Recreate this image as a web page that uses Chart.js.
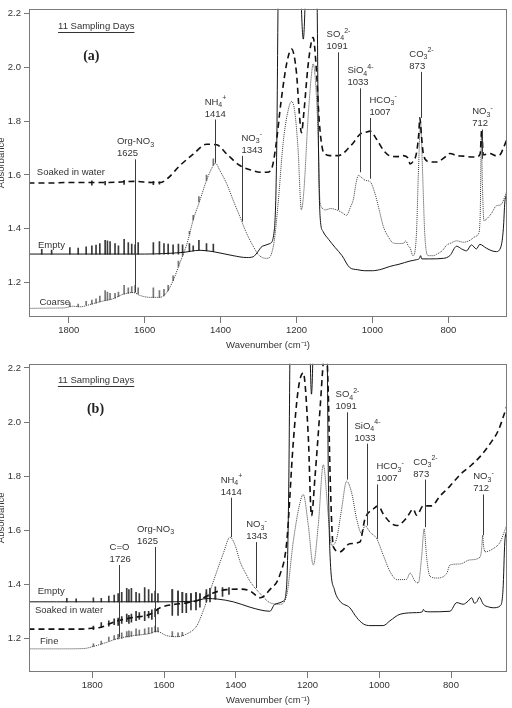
<!DOCTYPE html>
<html>
<head>
<meta charset="utf-8">
<script src="https://cdn.jsdelivr.net/npm/chart.js@4.4.0/dist/chart.umd.min.js"></script>
<style>
  html, body { margin: 0; padding: 0; background: #fff; overflow: hidden; width: 512px; height: 708px; position: relative; }
  canvas { position: absolute; left: -5px; }
  #pa { top: 0; }
  #pb { top: 355px; }
</style>
</head>
<body>
<canvas id="pa" width="517" height="355"></canvas>
<canvas id="pb" width="517" height="355"></canvas>
<script>
// tick labels
const xTicks = [1800, 1600, 1400, 1200, 1000, 800];
const yTicks = [1.2, 1.4, 1.6, 1.8, 2.0, 2.2];

// water vapour lines seen as spikes (cm-1)
const waterLineWn = [1871, 1845, 1797, 1775, 1754, 1739, 1728, 1718, 1704, 1698, 1691, 1678, 1669, 1654, 1643,
  1634, 1625, 1617, 1577, 1561, 1549, 1538, 1525, 1511, 1500, 1482, 1472, 1457, 1437, 1419];

// ---- panel (a): coarse ----
const aEmptyWn = [1906, 1800, 1700, 1600, 1500, 1454, 1420, 1367, 1331, 1314, 1304, 1290, 1270, 1258, 1252, 1248, 1240,
  1215, 1196, 1182, 1170, 1155, 1146, 1142, 1138, 1130, 1115, 1098, 1080, 1060, 1040, 1020, 1000, 975, 954, 930, 901,
  884, 876, 873, 870, 850, 813, 796, 778, 765, 752, 739, 726, 717, 700, 685, 674, 661, 655, 651, 645];
const aEmptyAbs = [1.306, 1.306, 1.306, 1.306, 1.312, 1.320, 1.315, 1.300, 1.293, 1.296, 1.310, 1.335, 1.345, 1.40, 1.70,
  2.30, 2.70, 2.90, 2.60, 2.105, 2.60, 2.90, 2.30, 1.70, 1.45, 1.39, 1.36, 1.33, 1.30, 1.256, 1.248, 1.244, 1.244, 1.25,
  1.26, 1.268, 1.28, 1.285, 1.29, 1.30, 1.288, 1.288, 1.29, 1.30, 1.335, 1.325, 1.318, 1.34, 1.325, 1.342, 1.328, 1.318,
  1.315, 1.335, 1.40, 1.50, 1.53];

const aSoakedWn = [1906, 1850, 1800, 1700, 1625, 1580, 1559, 1541, 1507, 1472, 1437, 1410, 1383, 1349, 1314, 1296, 1278,
  1265, 1255, 1240, 1225, 1213, 1200, 1193, 1187, 1180, 1170, 1160, 1156, 1148, 1140, 1132, 1124, 1112, 1090, 1077, 1063,
  1050, 1033, 1015, 1006, 989, 970, 954, 935, 919, 905, 901, 893, 884, 878, 875, 871, 866, 853, 831, 810, 796, 778, 761,
  740, 726, 716, 712, 708, 691, 675, 664, 655, 645];
const aSoakedAbs = [1.570, 1.570, 1.572, 1.572, 1.576, 1.572, 1.572, 1.585, 1.635, 1.677, 1.714, 1.712, 1.677, 1.635,
  1.616, 1.610, 1.610, 1.625, 1.70, 1.88, 2.02, 2.068, 1.98, 1.84, 1.757, 1.84, 2.0, 2.10, 2.111, 2.0, 1.80, 1.70, 1.677,
  1.672, 1.672, 1.68, 1.70, 1.72, 1.751, 1.76, 1.763, 1.733, 1.69, 1.671, 1.668, 1.672, 1.66, 1.641, 1.65, 1.68, 1.75,
  1.812, 1.75, 1.68, 1.65, 1.648, 1.665, 1.68, 1.672, 1.67, 1.667, 1.667, 1.68, 1.769, 1.675, 1.68, 1.672, 1.675, 1.70,
  1.735];

const aCoarseWn = [1906, 1850, 1810, 1790, 1770, 1740, 1717, 1683, 1656, 1630, 1612, 1586, 1560, 1542, 1525, 1507, 1489,
  1472, 1454, 1437, 1419, 1414, 1402, 1384, 1367, 1349, 1332, 1314, 1301, 1290, 1278, 1268, 1258, 1248, 1235, 1222, 1213,
  1205, 1196, 1187, 1180, 1170, 1160, 1156, 1150, 1143, 1138, 1130, 1125, 1110, 1094, 1080, 1068, 1058, 1050, 1043, 1037,
  1028, 1019, 1006, 993, 982, 971, 958, 945, 930, 919, 912, 905, 901, 893, 884, 879, 873, 868, 862, 853, 840, 831, 815,
  804, 796, 778, 760, 743, 730, 721, 716, 713, 710, 706, 700, 685, 674, 661, 651, 645];
const aCoarseAbs = [1.104, 1.105, 1.106, 1.112, 1.110, 1.120, 1.129, 1.140, 1.157, 1.163, 1.152, 1.145, 1.145, 1.163,
  1.207, 1.274, 1.342, 1.433, 1.507, 1.580, 1.636, 1.645, 1.617, 1.568, 1.507, 1.445, 1.385, 1.335, 1.305, 1.293, 1.290,
  1.300, 1.360, 1.500, 1.720, 1.840, 1.873, 1.840, 1.700, 1.470, 1.550, 1.800, 1.980, 2.013, 1.950, 1.750, 1.500, 1.475,
  1.470, 1.475, 1.470, 1.460, 1.450, 1.480, 1.510, 1.570, 1.598, 1.590, 1.580, 1.575, 1.530, 1.470, 1.408, 1.370, 1.347,
  1.345, 1.345, 1.355, 1.335, 1.330, 1.300, 1.380, 1.600, 1.796, 1.620, 1.380, 1.300, 1.300, 1.305, 1.320, 1.340, 1.345,
  1.355, 1.350, 1.357, 1.370, 1.380, 1.450, 1.742, 1.550, 1.430, 1.435, 1.460, 1.485, 1.490, 1.520, 1.545];

const aEmptySpikeLo = [1.306, 1.306, 1.306, 1.306, 1.306, 1.306, 1.306, 1.306, 1.306, 1.306, 1.306, 1.306, 1.306, 1.306,
  1.306, 1.306, 1.306, 1.306, 1.306, 1.306, 1.306, 1.306, 1.306, 1.306, 1.310, 1.316, 1.318, 1.320, 1.318, 1.315];
const aEmptySpikeHi = [1.324, 1.321, 1.330, 1.328, 1.333, 1.337, 1.339, 1.345, 1.357, 1.355, 1.352, 1.345, 1.337, 1.361,
  1.349, 1.343, 1.340, 1.349, 1.349, 1.352, 1.345, 1.343, 1.340, 1.343, 1.340, 1.345, 1.337, 1.357, 1.345, 1.343];
const aSoakedSpikeLo = [null, null, null, null, null, 1.562, null, null, 1.563, null, null, null, null, 1.565, null, null,
  null, null, 1.564, 1.566, null, null, null, null, null, null, null, null, null, null];
const aSoakedSpikeHi = [null, null, null, null, null, 1.578, null, null, 1.576, null, null, null, null, 1.580, null, null,
  null, null, 1.576, 1.574, null, null, null, null, null, null, null, null, null, null];
const aCoarseSpikeLo = [null, null, 1.110, 1.110, 1.117, 1.120, 1.123, 1.128, 1.133, 1.135, 1.137, 1.142, 1.148, 1.157,
  1.160, 1.162, 1.163, 1.158, 1.144, 1.145, 1.150, 1.170, 1.207, 1.260, 1.300, 1.380, 1.433, 1.500, 1.580, 1.636];
const aCoarseSpikeHi = [null, null, 1.125, 1.120, 1.130, 1.135, 1.140, 1.150, 1.170, 1.165, 1.160, 1.160, 1.165, 1.190,
  1.180, 1.185, 1.190, 1.180, 1.180, 1.170, 1.175, 1.190, 1.225, 1.280, 1.315, 1.390, 1.450, 1.520, 1.600, 1.660];

const aNoteName = ['Org-NO_3', 'NH_4^+', 'NO_3^-', 'SO_4^2-', 'SiO_4^4-', 'HCO_3^-', 'CO_3^2-', 'NO_3^-'];
const aNoteWn = [1625, 1414, 1343, 1091, 1033, 1007, 873, 712];
const aNoteTop = [1.658, 1.806, 1.671, 2.056, 1.922, 1.812, 1.983, 1.769];
const aNoteBottom = [1.165, 1.645, 1.427, 1.470, 1.610, 1.586, 1.812, 1.660];

// ---- panel (b): fine ----
const bEmptyWn = [1978, 1900, 1800, 1700, 1600, 1520, 1481, 1450, 1407, 1360, 1332, 1305, 1291, 1267, 1258, 1252, 1248,
  1235, 1215, 1198, 1189, 1179, 1160, 1146, 1142, 1137, 1125, 1110, 1082, 1063, 1044, 1026, 989, 970, 942, 896, 880, 877,
  873, 859, 803, 784, 766, 752, 742, 735, 728, 721, 710, 695, 682, 663, 655, 650, 644];
const bEmptyAbs = [1.335, 1.335, 1.335, 1.335, 1.335, 1.337, 1.347, 1.345, 1.335, 1.315, 1.305, 1.300, 1.326, 1.338,
  1.40, 1.80, 2.40, 2.80, 2.90, 2.60, 2.103, 2.60, 2.90, 2.40, 1.80, 1.50, 1.38, 1.338, 1.313, 1.277, 1.253, 1.247,
  1.247, 1.265, 1.289, 1.295, 1.298, 1.307, 1.300, 1.298, 1.300, 1.332, 1.326, 1.338, 1.350, 1.330, 1.335, 1.352, 1.326,
  1.316, 1.313, 1.320, 1.380, 1.556, 1.600];

const bSoakedWn = [1978, 1900, 1830, 1797, 1779, 1732, 1686, 1639, 1611, 1574, 1537, 1500, 1463, 1425, 1388, 1360, 1332,
  1305, 1277, 1258, 1240, 1226, 1212, 1198, 1189, 1179, 1165, 1156, 1148, 1142, 1137, 1128, 1110, 1082, 1054, 1040, 1017,
  1003, 989, 970, 951, 924, 905, 896, 877, 854, 831, 803, 775, 747, 719, 691, 668, 650, 644];
const bSoakedAbs = [1.234, 1.234, 1.234, 1.238, 1.240, 1.264, 1.277, 1.289, 1.313, 1.325, 1.331, 1.343, 1.368, 1.380,
  1.382, 1.375, 1.350, 1.380, 1.435, 1.556, 1.920, 2.120, 2.182, 1.950, 1.653, 1.800, 2.050, 2.220, 2.280, 2.100, 1.800,
  1.538, 1.520, 1.550, 1.556, 1.641, 1.678, 1.690, 1.660, 1.629, 1.617, 1.645, 1.678, 1.655, 1.690, 1.690, 1.726, 1.763,
  1.805, 1.836, 1.872, 1.920, 1.969, 2.036, 2.060];

const bFineWn = [1978, 1900, 1825, 1797, 1760, 1732, 1686, 1639, 1621, 1593, 1565, 1537, 1509, 1491, 1472, 1453, 1435,
  1416, 1402, 1388, 1370, 1360, 1332, 1305, 1277, 1258, 1240, 1221, 1212, 1198, 1184, 1170, 1156, 1142, 1133, 1119, 1105,
  1091, 1077, 1063, 1049, 1040, 1026, 1007, 989, 970, 951, 924, 914, 900, 891, 882, 875, 868, 859, 840, 812, 803, 775,
  747, 719, 714, 712, 709, 705, 682, 663, 650, 644];
const bFineAbs = [1.161, 1.161, 1.162, 1.170, 1.185, 1.198, 1.210, 1.218, 1.226, 1.210, 1.206, 1.216, 1.246, 1.301, 1.374,
  1.447, 1.513, 1.574, 1.544, 1.483, 1.434, 1.410, 1.365, 1.332, 1.326, 1.360, 1.556, 1.702, 1.732, 1.620, 1.471, 1.620,
  1.842, 1.650, 1.544, 1.568, 1.678, 1.781, 1.738, 1.641, 1.587, 1.617, 1.593, 1.568, 1.508, 1.447, 1.417, 1.418, 1.441,
  1.410, 1.405, 1.500, 1.605, 1.500, 1.430, 1.423, 1.440, 1.471, 1.475, 1.490, 1.500, 1.540, 1.581, 1.540, 1.520, 1.532,
  1.556, 1.599, 1.620];

const bEmptySpikeLo = [1.335, 1.335, 1.335, 1.335, 1.335, 1.335, 1.335, 1.335, 1.335, 1.335, 1.335, 1.335, 1.335, 1.335,
  1.335, 1.335, 1.335, 1.335, 1.335, 1.335, 1.335, 1.335, 1.335, 1.335, 1.337, 1.345, 1.347, 1.346, null, null];
const bEmptySpikeHi = [1.348, 1.346, 1.350, 1.348, 1.356, 1.360, 1.365, 1.370, 1.385, 1.380, 1.385, 1.370, 1.365, 1.388,
  1.380, 1.365, 1.375, 1.365, 1.380, 1.375, 1.370, 1.365, 1.365, 1.367, 1.364, 1.368, 1.362, 1.358, null, null];
const bSoakedSpikeLo = [null, null, 1.232, 1.240, 1.245, 1.250, 1.248, 1.255, 1.262, 1.255, 1.260, 1.265, 1.270, 1.265,
  1.275, 1.270, 1.280, 1.290, 1.285, 1.285, 1.295, 1.295, 1.305, 1.305, 1.315, 1.335, 1.335, 1.345, 1.355, 1.362];
const bSoakedSpikeHi = [null, null, 1.245, 1.258, 1.265, 1.272, 1.275, 1.280, 1.290, 1.285, 1.290, 1.300, 1.295, 1.300,
  1.300, 1.305, 1.310, 1.310, 1.380, 1.375, 1.370, 1.365, 1.365, 1.370, 1.365, 1.380, 1.385, 1.390, 1.388, 1.388];
const bFineSpikeLo = [null, null, 1.170, 1.178, 1.190, 1.195, 1.198, 1.200, 1.205, 1.205, 1.207, 1.210, 1.212, 1.215,
  1.217, 1.220, 1.225, 1.224, 1.206, 1.206, 1.210, null, null, null, null, null, null, null, null, null];
const bFineSpikeHi = [null, null, 1.180, 1.190, 1.205, 1.210, 1.215, 1.220, 1.225, 1.228, 1.225, 1.235, 1.230, 1.235,
  1.240, 1.240, 1.245, 1.240, 1.225, 1.220, 1.222, null, null, null, null, null, null, null, null, null];

const bNoteName = ['C=O', 'Org-NO_3', 'NH_4^+', 'NO_3^-', 'SO_4^2-', 'SiO_4^4-', 'HCO_3^-', 'CO_3^2-', 'NO_3^-'];
const bNoteWn = [1726, 1625, 1414, 1343, 1091, 1033, 1007, 873, 712];
const bNoteTop = [1.471, 1.538, 1.720, 1.556, 2.036, 1.920, 1.769, 1.787, 1.732];
const bNoteBottom = [1.204, 1.222, 1.574, 1.386, 1.787, 1.617, 1.568, 1.611, 1.581];

const FONT = '"Liberation Sans", Arial, Helvetica, sans-serif';
Chart.defaults.font.family = FONT;
Chart.defaults.font.size = 9.5;
Chart.defaults.color = '#333';

// tiny markup: _x subscript one char, ^rest superscript
function richSegs(s) {
  const segs = [];
  let i = 0;
  while (i < s.length) {
    if (s[i] === '_') { segs.push({ t: s[i + 1], k: 'sub' }); i += 2; }
    else if (s[i] === '^') { segs.push({ t: s.slice(i + 1), k: 'sup' }); break; }
    else {
      let j = i;
      while (j < s.length && s[j] !== '_' && s[j] !== '^') j++;
      segs.push({ t: s.slice(i, j), k: 'n' });
      i = j;
    }
  }
  return segs;
}

function richText(ctx, s, x, y, draw) {
  let cx = x;
  for (const g of richSegs(s)) {
    ctx.font = (g.k === 'n' ? 9.5 : 7) + 'px ' + FONT;
    const dy = g.k === 'sub' ? 2.5 : g.k === 'sup' ? -4.5 : 0;
    if (draw) ctx.fillText(g.t, cx, y + dy);
    cx += ctx.measureText(g.t).width;
  }
  return cx - x;
}

const panelPlugin = {
  id: 'panelDecor',
  afterDatasetsDraw(chart, args, opts) {
    const { ctx, chartArea: ca, scales: { x, y } } = chart;
    ctx.save();
    // frame
    ctx.strokeStyle = '#7a7a7a';
    ctx.lineWidth = 1;
    ctx.strokeRect(Math.round(ca.left) + 0.5, Math.round(ca.top) + 0.5,
      Math.round(ca.width) - 1, Math.round(ca.height) - 1);

    // peak labels
    ctx.fillStyle = '#333';
    ctx.textBaseline = 'alphabetic';
    ctx.textAlign = 'left';
    opts.notes.name.forEach((name, i) => {
      const px = Math.round(x.getPixelForValue(opts.notes.wn[i])) + 0.5;
      const top = y.getPixelForValue(opts.notes.top[i]);
      const bot = y.getPixelForValue(opts.notes.bottom[i]);
      ctx.strokeStyle = '#3a3a3a';
      ctx.beginPath();
      ctx.moveTo(px, top);
      ctx.lineTo(px, bot);
      ctx.stroke();
      const w = richText(ctx, name, 0, 0, false);
      const left = opts.notes.align[i] === 'l' ? px - 1 : px - w / 2;
      richText(ctx, name, left, top - 15, true);
      richText(ctx, String(opts.notes.wn[i]), left, top - 3, true);
    });

    // curve names and titles
    ctx.textBaseline = 'middle';
    opts.texts.forEach(t => {
      const tx = x.getPixelForValue(t.wn), ty = y.getPixelForValue(t.abs);
      ctx.font = t.font || ('9.5px ' + FONT);
      ctx.fillStyle = t.color || '#333';
      ctx.fillText(t.text, tx, ty);
      if (t.underline) {
        const w = ctx.measureText(t.text).width;
        ctx.strokeStyle = '#333';
        ctx.beginPath();
        ctx.moveTo(tx, Math.round(ty + 6) + 0.5);
        ctx.lineTo(tx + w, Math.round(ty + 6) + 0.5);
        ctx.stroke();
      }
    });
    ctx.restore();
  }
};

function pts(wn, abs) {
  return wn.map((w, i) => ({ x: w, y: abs[i] }));
}

function spikes(lo, hi) {
  return waterLineWn.map((w, i) => (lo[i] == null ? null : { x: w, y: [lo[i], hi[i]] })).filter(Boolean);
}

function lineSet(data, style) {
  const s = {
    type: 'line', data, pointRadius: 0, borderWidth: 1, fill: false,
    cubicInterpolationMode: 'monotone', borderColor: '#151515'
  };
  if (style === 'dash') { s.borderDash = [6, 4]; s.borderWidth = 1.6; s.borderColor = '#111'; }
  if (style === 'dot') { s.borderDash = [1, 1]; s.borderColor = '#3a3a3a'; }
  return s;
}

function spikeSet(data, color) {
  return { type: 'bar', data, barThickness: 1, grouped: false, backgroundColor: color, borderWidth: 0 };
}

function makePanel(id, p) {
  return new Chart(document.getElementById(id), {
    type: 'line',
    data: {
      datasets: [
        lineSet(pts(p.emptyWn, p.emptyAbs), 'solid'),
        lineSet(pts(p.soakedWn, p.soakedAbs), 'dash'),
        lineSet(pts(p.thirdWn, p.thirdAbs), 'dot'),
        spikeSet(spikes(p.emptyLo, p.emptyHi), '#3a3a3a'),
        spikeSet(spikes(p.soakedLo, p.soakedHi), '#333'),
        spikeSet(spikes(p.thirdLo, p.thirdHi), '#777')
      ]
    },
    options: {
      responsive: false,
      animation: false,
      devicePixelRatio: 1,
      layout: { padding: { top: 4, right: 5, left: 0, bottom: 0 } },
      plugins: {
        legend: { display: false },
        tooltip: { enabled: false },
        panelDecor: { notes: p.notes, texts: p.texts }
      },
      scales: {
        x: {
          type: 'linear', reverse: true, min: p.xMin, max: p.xMax, offset: false,
          afterBuildTicks: s => { s.ticks = xTicks.map(v => ({ value: v })); },
          afterFit: s => { s.height = 38; },
          grid: { drawOnChartArea: false, tickLength: 6, color: '#777', offset: false },
          border: { display: false },
          ticks: { padding: 2, maxRotation: 0, autoSkip: false, callback: v => String(v) },
          title: { display: true, text: 'Wavenumber (cm⁻¹)', padding: { top: 0, bottom: 4 } }
        },
        y: {
          min: p.yMin, max: p.yMax,
          afterBuildTicks: s => { s.ticks = yTicks.map(v => ({ value: v })); },
          afterFit: s => { s.width = 34; },
          grid: { drawOnChartArea: false, tickLength: 5, color: '#777' },
          border: { display: false },
          ticks: { padding: 3, callback: v => v.toFixed(1) },
          title: { display: true, text: 'Absorbance', padding: { top: 1, bottom: 0 } }
        }
      }
    },
    plugins: [panelPlugin]
  });
}

const serifBold = 'bold 14px "Liberation Serif", "Times New Roman", serif';

makePanel('pa', {
  xMin: 645.4, xMax: 1904.6, yMin: 1.072, yMax: 2.218,
  emptyWn: aEmptyWn, emptyAbs: aEmptyAbs, soakedWn: aSoakedWn, soakedAbs: aSoakedAbs,
  thirdWn: aCoarseWn, thirdAbs: aCoarseAbs,
  emptyLo: aEmptySpikeLo, emptyHi: aEmptySpikeHi, soakedLo: aSoakedSpikeLo, soakedHi: aSoakedSpikeHi,
  thirdLo: aCoarseSpikeLo, thirdHi: aCoarseSpikeHi,
  notes: { name: aNoteName, wn: aNoteWn, top: aNoteTop, bottom: aNoteBottom,
    align: ['c', 'c', 'l', 'c', 'c', 'l', 'c', 'c'] },
  texts: [
    { text: 'Soaked in water', wn: 1884, abs: 1.610 },
    { text: 'Empty', wn: 1881, abs: 1.338 },
    { text: 'Coarse', wn: 1877, abs: 1.128 },
    { text: '11 Sampling Days', wn: 1828, abs: 2.153, underline: true },
    { text: '(a)', wn: 1762, abs: 2.042, font: serifBold, color: '#222' }
  ]
});

makePanel('pb', {
  xMin: 643.9, xMax: 1976.5, yMin: 1.0754, yMax: 2.2157,
  emptyWn: bEmptyWn, emptyAbs: bEmptyAbs, soakedWn: bSoakedWn, soakedAbs: bSoakedAbs,
  thirdWn: bFineWn, thirdAbs: bFineAbs,
  emptyLo: bEmptySpikeLo, emptyHi: bEmptySpikeHi, soakedLo: bSoakedSpikeLo, soakedHi: bSoakedSpikeHi,
  thirdLo: bFineSpikeLo, thirdHi: bFineSpikeHi,
  notes: { name: bNoteName, wn: bNoteWn, top: bNoteTop, bottom: bNoteBottom,
    align: ['c', 'c', 'c', 'c', 'c', 'c', 'l', 'c', 'c'] },
  texts: [
    { text: 'Empty', wn: 1952, abs: 1.374 },
    { text: 'Soaked in water', wn: 1960, abs: 1.304 },
    { text: 'Fine', wn: 1946, abs: 1.188 },
    { text: '11 Sampling Days', wn: 1896, abs: 2.154, underline: true },
    { text: '(b)', wn: 1815, abs: 2.046, font: serifBold, color: '#222' }
  ]
});
</script>
</body>
</html>
